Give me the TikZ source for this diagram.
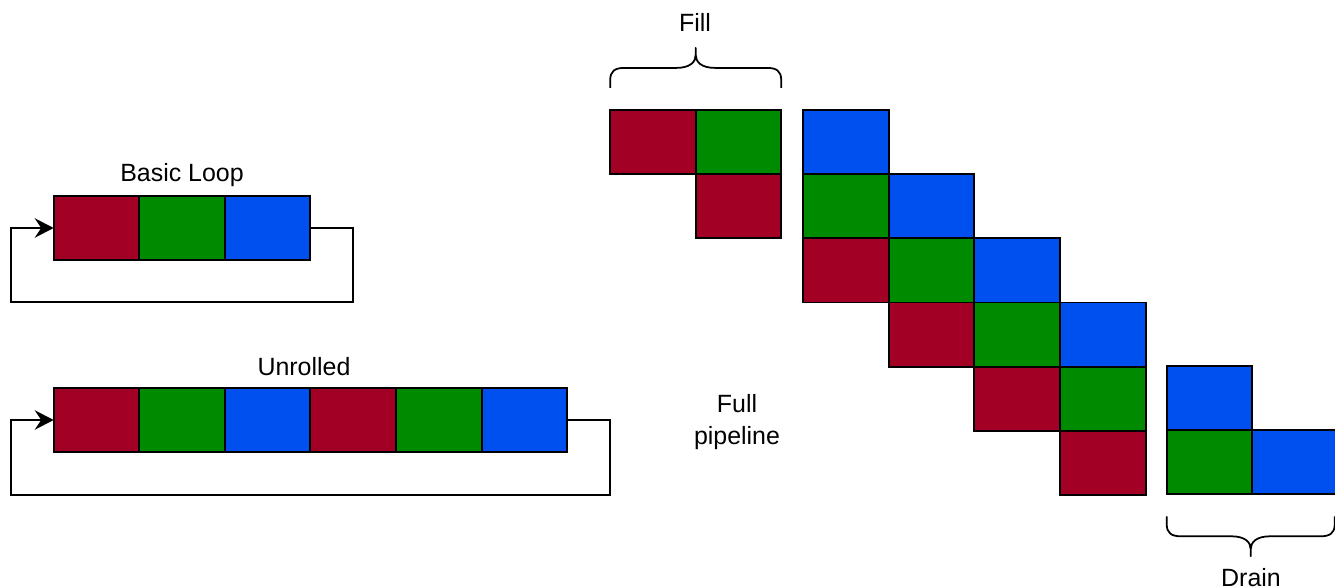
\documentclass[tikz,border=0pt]{standalone}
\usepackage{fontspec}
\setmainfont{Liberation Sans}
\usepackage{tikz}
\usetikzlibrary{arrows.meta, positioning}
\usepackage{xcolor}
\definecolor{loopred}{HTML}{A20025}
\definecolor{loopgreen}{HTML}{008A00}
\definecolor{loopblue}{HTML}{0050EF}

\begin{document}
\begin{tikzpicture}[
    x=0.02cm, y=-0.02cm,
    font=\fontsize{14.2}{18.2}\selectfont,
    cell/.style={draw, line width=1.1pt, minimum width=1.712cm, minimum height=1.284cm, inner sep=0pt, outer sep=0pt},
    arrow/.style={line width=1pt, -{Stealth[length=3.8mm, width=3.9mm, inset=1.3mm]}},
    bracket/.style={line width=1pt, line join=round},
    label/.style={align=center, inner sep=0pt}
]
\useasboundingbox (0,0) rectangle (1335,588);

% basic loop
\node[cell, fill=loopred] (b1) at (96.5,228) {};
\node[cell, fill=loopgreen, right=0pt of b1] (b2) {};
\node[cell, fill=loopblue, right=0pt of b2] (b3) {};
\node[label] (basic) at (182,175) {Basic Loop};

\coordinate (bR) at (353,302);
\coordinate (bL) at (11,302);
\draw[arrow] (b3.east) -| (bR) -- (bL) |- (b1.west);

% unrolled loop
\node[cell, fill=loopred] (u1) at (96.5,420) {};
\node[cell, fill=loopgreen, right=0pt of u1] (u2) {};
\node[cell, fill=loopblue, right=0pt of u2] (u3) {};
\node[cell, fill=loopred, right=0pt of u3] (u4) {};
\node[cell, fill=loopgreen, right=0pt of u4] (u5) {};
\node[cell, fill=loopblue, right=0pt of u5] (u6) {};
\node[label] (unrolled) at (304,367) {Unrolled};

\coordinate (uR) at (610,495);
\coordinate (uL) at (11,495);
\draw[arrow] (u6.east) -| (uR) -- (uL) |- (u1.west);

% fill
\node[cell, fill=loopred] (f1) at (653,142) {};
\node[cell, fill=loopgreen, right=0pt of f1] (f2) {};
\node[cell, fill=loopred, below=0pt of f2] (f3) {};
\coordinate (fillL) at ([yshift=0.44cm]f1.north west);
\draw[bracket] (fillL) -- ++(0,-8)
    .. controls +(0,-9) and +(-9,0) .. ++(14,-12) -- ++(52,0)
    .. controls +(14,0) and +(0,7) .. ++(19.5,-13) -- ++(0,-7)
    -- ++(0,7) .. controls +(0,7) and +(-14,0) .. ++(19.5,13) -- ++(52,0)
    .. controls +(9,0) and +(0,-9) .. ++(14,12) -- ++(0,8);
\node[label] (fill) at (695,22) {Fill};

% full pipeline
\node[cell, fill=loopblue] (p1b) at (846,142) {};
\node[cell, fill=loopgreen, below=0pt of p1b] (p2g) {};
\node[cell, fill=loopblue, right=0pt of p2g] (p2b) {};
\node[cell, fill=loopred, below=0pt of p2g] (p3r) {};
\node[cell, fill=loopgreen, right=0pt of p3r] (p3g) {};
\node[cell, fill=loopblue, right=0pt of p3g] (p3b) {};
\node[cell, fill=loopred, below=0pt of p3g] (p4r) {};
\node[cell, fill=loopgreen, right=0pt of p4r] (p4g) {};
\node[cell, fill=loopblue, right=0pt of p4g] (p4b) {};
\node[cell, fill=loopred, below=0pt of p4g] (p5r) {};
\node[cell, fill=loopgreen, right=0pt of p5r] (p5g) {};
\node[cell, fill=loopred, below=0pt of p5g] (p6r) {};
\node[label] (full) at (737,422) {Full\\pipeline};

% drain
\node[cell, fill=loopblue] (r1) at (1209.5,398) {};
\node[cell, fill=loopgreen, below=0pt of r1] (r2) {};
\node[cell, fill=loopblue, right=0pt of r2] (r3) {};
\coordinate (drainL) at ([yshift=-0.44cm]r2.south west);
\draw[bracket] (drainL) -- ++(0,8)
    .. controls +(0,9) and +(-9,0) .. ++(14,12) -- ++(50.5,0)
    .. controls +(14,0) and +(0,-7) .. ++(19.5,13) -- ++(0,7)
    -- ++(0,-7) .. controls +(0,-7) and +(-14,0) .. ++(19.5,-13) -- ++(50.5,0)
    .. controls +(9,0) and +(0,9) .. ++(14,-12) -- ++(0,-8);
\node[label] (drain) at (1251,578) {Drain};

\end{tikzpicture}
\end{document}
